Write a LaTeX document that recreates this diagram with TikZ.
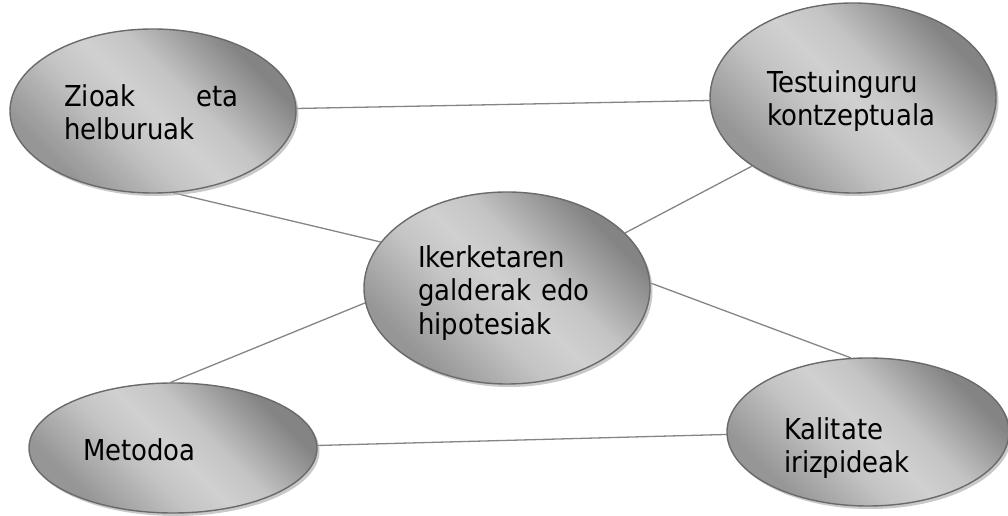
\documentclass[tikz,border=0pt]{standalone}
\usepackage{fontspec}
\setmainfont{DejaVu Sans Condensed}
\usetikzlibrary{shapes.geometric,shadows,backgrounds}
\definecolor{topgray}{HTML}{848484}
\definecolor{botgray}{HTML}{969696}
\definecolor{midgray}{HTML}{D0D0D0}
\definecolor{softgray}{HTML}{C4C4C4}
\definecolor{edgegray}{HTML}{6A6A6A}
\definecolor{linkgray}{HTML}{858585}
\pgfdeclareverticalshading{bubbleband}{100bp}{color(0bp)=(botgray); color(27bp)=(botgray); color(42bp)=(softgray); color(50bp)=(midgray); color(58bp)=(softgray); color(73bp)=(topgray); color(100bp)=(topgray)}
\begin{document}
\begin{tikzpicture}[x=1pt,y=1pt,
  bubble/.style={ellipse,draw=edgegray,line width=1.4pt,inner sep=0pt,
    shading=bubbleband,shading angle=-45,
    drop shadow={shadow xshift=2.5pt,shadow yshift=-3pt,fill=black!30,opacity=0.7}},
  label/.style={anchor=north west,inner sep=0pt,text width=174pt,align=left,
    font=\fontsize{28.8}{33.8}\selectfont},
  link/.style={draw=linkgray,line width=1.3pt}]
\useasboundingbox (0,0) rectangle (1008,516);
\node[bubble,minimum width=286pt,minimum height=164pt] (zio) at (153,405) {};
\node[bubble,minimum width=286pt,minimum height=190pt] (tes) at (853,418) {};
\node[bubble,minimum width=286pt,minimum height=192pt] (ike) at (507,228) {};
\node[bubble,minimum width=288pt,minimum height=130pt] (met) at (173,68) {};
\node[bubble,minimum width=282pt,minimum height=148pt] (kal) at (868,84) {};
\node[label] (ziot) at (64,432) {Zioak\hfill eta\\helburuak};
\node[label] (test) at (767,446) {Testuinguru\\kontzeptuala};
\node[label] (iket) at (418,271) {Ikerketaren\\galderak edo\\hipotesiak};
\node[label] (mett) at (83,78) {Metodoa};
\node[label] (kalt) at (784,99) {Kalitate\\irizpideak};
\begin{scope}[on background layer]
\draw[link] (zio.1.6) -- (tes.181);
\draw[link] (zio.-76.3) -- (ike.160.4);
\draw[link] (tes.214.7) -- (ike.25.3);
\draw[link] (ike.186) -- (met.92.6);
\draw[link] (ike.2.4) -- (kal.103.7);
\draw[link] (met.1.6) -- (kal.181.6);
\end{scope}
\end{tikzpicture}
\end{document}
